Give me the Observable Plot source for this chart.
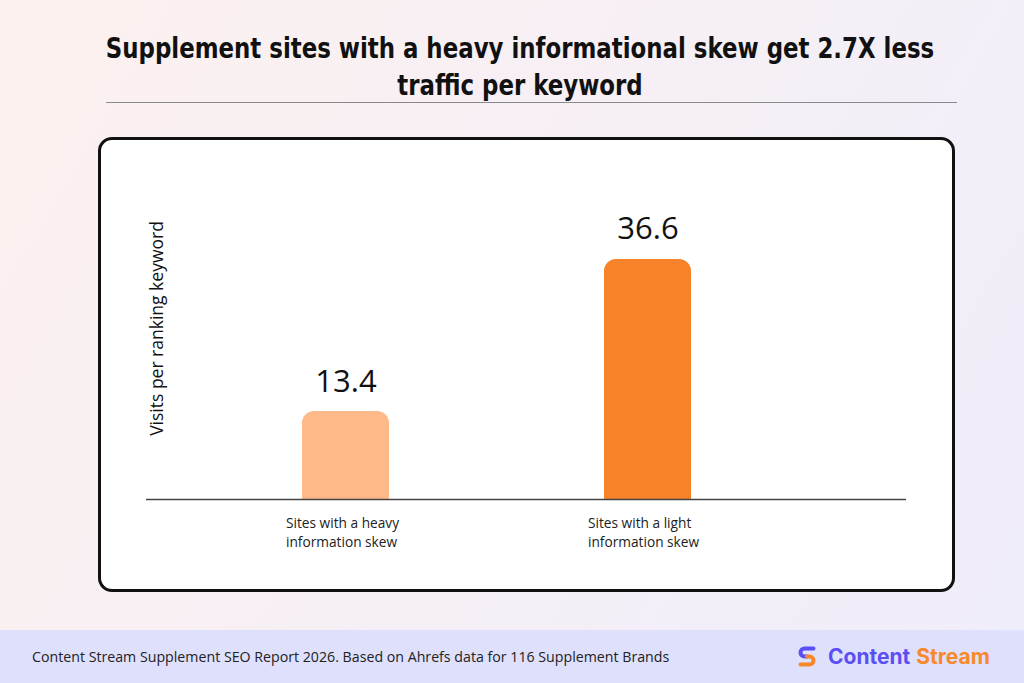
<!DOCTYPE html>
<html><head><meta charset="utf-8">
<script src="https://cdn.jsdelivr.net/npm/d3@7"></script>
<script src="https://cdn.jsdelivr.net/npm/@observablehq/plot@0.6"></script>
<style>
html,body{margin:0;padding:0;}
body{width:1024px;height:683px;position:relative;overflow:hidden;
  background:linear-gradient(120deg,#fcf1ee 0%,#f6eff5 50%,#efedfa 100%);
  font-family:"Open Sans",sans-serif;}
#title{position:absolute;left:0;width:1040px;top:30px;text-align:center;
  font-family:"DejaVu Sans Condensed","DejaVu Sans",sans-serif;font-stretch:condensed;
  font-weight:bold;font-size:27.5px;line-height:37px;color:#111;
  transform:scaleX(0.925);transform-origin:520px 0;}
#rule{position:absolute;left:106px;top:102px;width:851px;height:0;border-top:1.5px solid #8a8a8a;}
#box{position:absolute;left:98px;top:137px;width:851px;height:449px;border:3px solid #111;border-radius:14px;background:#fff;}
#chart{position:absolute;left:98px;top:137px;}
#footer{position:absolute;left:0;top:630px;width:1024px;height:53px;background:#dfe0fc;}
#source{position:absolute;left:32px;top:0;line-height:53px;font-size:14.2px;color:#222;}
#logo{position:absolute;left:798px;top:14px;height:24px;display:flex;align-items:center;
  font-family:Inter,sans-serif;font-weight:700;font-size:21px;}
#logo svg{margin-right:12px;}
#logo .c{color:#5a4ff3;margin-right:6px;}
#logo .s{color:#f7892c;}
</style></head>
<body>
<div id="title">Supplement sites with a heavy informational skew get 2.7X less<br>traffic per keyword</div>
<div id="rule"></div>
<div id="box"></div>
<div id="chart"></div>
<div id="footer">
  <div id="source">Content Stream Supplement SEO Report 2026. Based on Ahrefs data for 116 Supplement Brands</div>
  <div id="logo"><svg width="18" height="21" viewBox="0 0 18 21">
    <path d="M15.5 2.5 H6.5 a4 4 0 0 0 0 8 H9" stroke="#5a4ff3" stroke-width="4" fill="none" stroke-linecap="round"/>
    <path d="M2.5 18.5 H11.5 a4 4 0 0 0 0 -8 H9" stroke="#f7892c" stroke-width="4" fill="none" stroke-linecap="round"/>
  </svg><span class="c">Content</span><span class="s">Stream</span></div>
</div>
<script>
const categories = ["Sites with a heavy\ninformation skew", "Sites with a light\ninformation skew"];
const values = [13.4, 36.6];
const valueLabels = ["13.4", "36.6"];
const barColors = ["#fdb987", "#f7822a"];
const yLabel = "Visits per ranking keyword";

const data = categories.map((c, i) => ({category: c, value: values[i], label: valueLabels[i], color: barColors[i]}));

const chart = Plot.plot({
  width: 857, height: 455,
  marginLeft: 48, marginRight: 49, marginTop: 34, marginBottom: 93,
  style: {background: "transparent", fontFamily: "Open Sans, sans-serif", overflow: "visible"},
  x: {domain: categories, paddingInner: 0.712, paddingOuter: 0.612, align: 0.421, axis: null},
  y: {domain: [0, 50], axis: null},
  color: {type: "identity"},
  marks: [
    Plot.barY(data, {x: "category", y: "value", fill: "color", ry1: 12}),
    Plot.ruleY([0], {stroke: "#444", strokeWidth: 1.5}),
    Plot.text(data, {x: "category", y: "value", text: "label", lineAnchor: "bottom", dy: -20, fontSize: 31, fill: "#111"}),
    Plot.text(data, {x: "category", y: 0, text: "category", lineAnchor: "top", textAnchor: "start", dx: -60, dy: 15, fontSize: 13.7, lineHeight: 1.4, fill: "#222"}),
    Plot.text([yLabel], {text: d => d, frameAnchor: "left", textAnchor: "middle", rotate: -90, dx: 11, dy: -7, fontSize: 17.5, fill: "#111"})
  ]
});
document.getElementById("chart").appendChild(chart);
</script>
</body></html>
